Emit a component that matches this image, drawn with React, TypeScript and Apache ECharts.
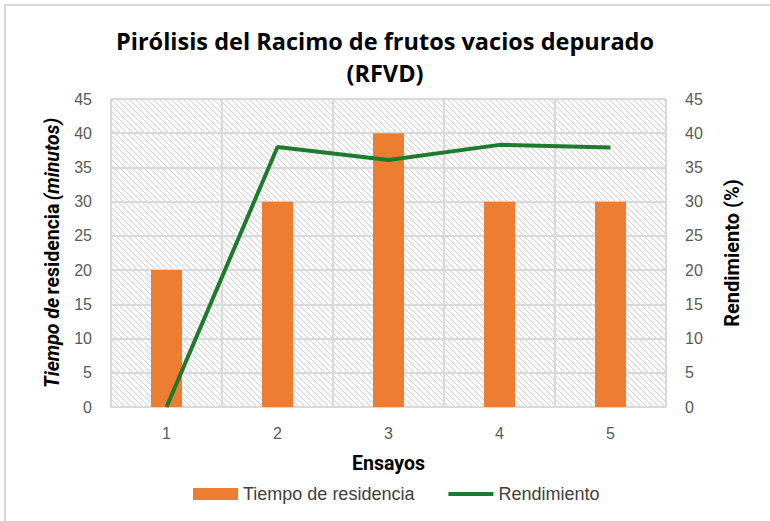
import React, { useEffect, useRef } from "react";
import * as echarts from "echarts";

const categories = ["1", "2", "3", "4", "5"];
const tiempoResidencia = [20, 30, 40, 30, 30];
const rendimiento = [0, 38.0, 36.1, 38.3, 37.9];
const titleLines = ["Pirólisis del Racimo de frutos vacios depurado", "(RFVD)"];

function makeHatch(): HTMLCanvasElement {
  const c = document.createElement("canvas");
  c.width = 6;
  c.height = 6;
  const ctx = c.getContext("2d")!;
  ctx.fillStyle = "#ffffff";
  ctx.fillRect(0, 0, 6, 6);
  ctx.strokeStyle = "#d6d6d6";
  ctx.lineWidth = 1.2;
  ctx.beginPath();
  for (let k = -6; k <= 12; k += 6) {
    ctx.moveTo(k, 0);
    ctx.lineTo(k + 6, 6);
  }
  ctx.stroke();
  return c;
}

export default function App() {
  const ref = useRef<HTMLDivElement>(null);
  useEffect(() => {
    if (!ref.current) return;
    const chart = echarts.init(ref.current, undefined, { renderer: "svg" });
    const hatch = makeHatch();
    chart.setOption({
      animation: false,
      backgroundColor: "#ffffff",
      textStyle: { fontFamily: "Liberation Sans, Arial, sans-serif" },
      title: {
        text: titleLines.join("\n"),
        left: "center",
        top: 20,
        textStyle: {
          fontFamily: "Open Sans, sans-serif",
          fontWeight: "bold",
          fontSize: 23.5,
          lineHeight: 32,
          color: "#000000",
        },
      },
      graphic: [
        {
          type: "rect",
          shape: { x: 5, y: 5, width: 900, height: 700 },
          style: { fill: "none", stroke: "#d9d9d9", lineWidth: 2 },
          silent: true,
        },
      ],
      legend: {
        top: 480,
        left: 188,
        itemGap: 34,
        itemWidth: 45,
        itemHeight: 12,
        textStyle: { fontSize: 18, color: "#404040", fontFamily: "Liberation Sans, Arial, sans-serif" },
        data: [
          { name: "Tiempo de residencia", icon: "rect" },
          { name: "Rendimiento", icon: "path://M0,0M0,4H45V8H0ZM45,12" },
        ],
      },
      grid: {
        left: 111,
        right: 104,
        top: 99,
        bottom: 114,
        show: true,
        backgroundColor: { image: hatch, repeat: "repeat" } as any,
        borderWidth: 0,
      },
      xAxis: {
        type: "category",
        data: categories,
        name: "Ensayos",
        nameLocation: "middle",
        nameGap: 46,
        nameTextStyle: { fontSize: 19.5, fontWeight: "bold", color: "#000000", fontFamily: "Roboto, sans-serif" },
        axisLine: { lineStyle: { color: "#d9d9d9", width: 1.5 } },
        axisTick: { show: false },
        axisLabel: { fontSize: 16, color: "#595959", margin: 18 },
        splitLine: { show: true, lineStyle: { color: "#d9d9d9", width: 2 } },
      },
      yAxis: [
        {
          type: "value",
          min: 0,
          max: 45,
          interval: 5,
          name: "{i|Tiempo de} {b|residencia} {i|(minutos)}",
          nameLocation: "middle",
          nameGap: 49,
          nameRotate: 90,
          nameTextStyle: {
            rich: {
              i: { fontSize: 19.5, fontWeight: "bold", fontStyle: "italic", color: "#000000", fontFamily: "Roboto, sans-serif" },
              b: { fontSize: 19.5, fontWeight: "bold", color: "#000000", fontFamily: "Roboto, sans-serif" },
            },
          },
          axisLine: { show: false },
          axisTick: { show: false },
          axisLabel: { fontSize: 16, color: "#595959", margin: 19 },
          splitLine: { show: true, lineStyle: { color: "#d9d9d9", width: 2 } },
        },
        {
          type: "value",
          min: 0,
          max: 45,
          interval: 5,
          name: "Rendimiento (%)",
          nameLocation: "middle",
          nameGap: 56,
          nameRotate: 90,
          nameTextStyle: { fontSize: 20, fontWeight: "bold", color: "#000000", fontFamily: "Roboto, sans-serif" },
          axisLine: { show: false },
          axisTick: { show: false },
          axisLabel: { fontSize: 16, color: "#595959", margin: 19 },
          splitLine: { show: false },
        },
      ],
      series: [
        {
          name: "Tiempo de residencia",
          type: "bar",
          data: tiempoResidencia,
          barWidth: 31,
          itemStyle: { color: "#ED7D31" },
          yAxisIndex: 0,
        },
        {
          name: "Rendimiento",
          type: "line",
          data: rendimiento,
          yAxisIndex: 1,
          symbol: "none",
          lineStyle: { color: "#1E7A2C", width: 4 },
          itemStyle: { color: "#1E7A2C" },
        },
      ],
    });
    return () => chart.dispose();
  }, []);
  return <div ref={ref} style={{ position: "absolute", left: 0, top: 0, width: 770, height: 521 }} />;
}
